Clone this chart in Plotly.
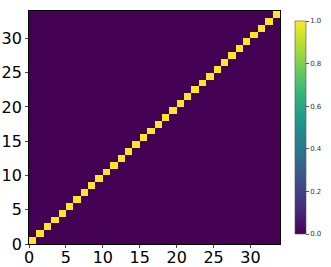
import plotly.graph_objects as go

n_nodes = 34
node_index = list(range(n_nodes))
diag_values = [1.0] * n_nodes
z = [[diag_values[i] if i == j else 0.0 for j in node_index] for i in node_index]
centers = [i + 0.5 for i in node_index]
tick_vals = [0, 5, 10, 15, 20, 25, 30]
cbar_ticks = [0.0, 0.2, 0.4, 0.6, 0.8, 1.0]

W, H = 331, 267
L, R, T, B = 29, 0, 11, 23
pw = W - L - R

fig = go.Figure(go.Heatmap(
    z=z, x=centers, y=centers, colorscale="Viridis", zmin=0, zmax=1,
    colorbar=dict(
        tickvals=cbar_ticks, ticktext=[f"{v:.1f}" for v in cbar_ticks],
        tickfont=dict(family="DejaVu Sans", size=7, color="#333"),
        thickness=11, len=233, lenmode="pixels", y=0.5, yanchor="middle",
        x=(295 - L) / pw, xpad=0, xanchor="left", outlinewidth=0.6, outlinecolor="#555",
        ticks="outside", ticklen=3, tickcolor="#555",
    ),
))
fig.update_layout(
    width=W, height=H, margin=dict(l=L, r=R, t=T, b=B, autoexpand=False),
    paper_bgcolor="white", plot_bgcolor="white",
    font=dict(family="DejaVu Sans", size=16, color="black"),
)
fig.update_xaxes(range=[0, n_nodes], tickvals=tick_vals, ticks="outside", ticklen=3,
                 ticklabelstandoff=-4,
                 domain=[0, (280 - L) / pw], automargin=False,
                 showgrid=False, zeroline=False, showline=True, linecolor="black",
                 linewidth=0.8, mirror=True)
fig.update_yaxes(range=[0, n_nodes], tickvals=tick_vals, ticks="outside", ticklen=3,
                 automargin=False,
                 showgrid=False, zeroline=False, showline=True, linecolor="black",
                 linewidth=0.8, mirror=True)
fig.write_html("out.html")
